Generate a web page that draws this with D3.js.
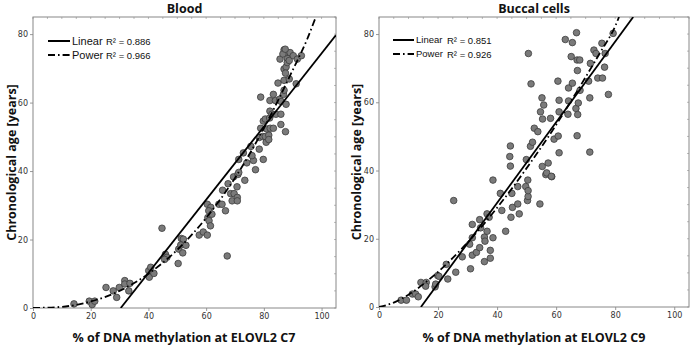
<!DOCTYPE html>
<html>
<head>
<meta charset="utf-8">
<script src="https://cdn.jsdelivr.net/npm/d3@7"></script>
<style>
  body { margin: 0; background: #fff; }
  .tick text { font-family: "DejaVu Sans", sans-serif; font-size: 8px; fill: #333; }
  .panelTitle, .axisLabel { font-family: "Open Sans", sans-serif; font-weight: bold; fill: #111; }
  .legendText { font-family: "Liberation Sans", sans-serif; fill: #111; }
</style>
</head>
<body>
<div id="chart"></div>
<script>
// ---- data ----
const xTicks = [0, 20, 40, 60, 80, 100];
const yTicks = [0, 20, 40, 60, 80];

const bloodPoints = [
  [14.2,1.2],[19.5,2],[20.5,1],[21.4,2],[25.3,6],[27.8,5],[29,3.1],[29.9,6],[31.8,8],[31.8,7],
  [33.6,7.2],[33.2,5],[40.1,10.9],[40.8,11.9],[40.3,9],[41.9,10.1],[44.7,23.3],[45.9,15.7],[46.4,14.8],[45.6,14.2],
  [50.3,13],[50.5,17.2],[51.4,20.3],[52.1,20.1],[51.2,18.4],[51.9,16.1],[53,18.3],[57.6,21.3],[59,22.2],[60.4,21.3],
  [60.4,30.3],[61.6,29.4],[60.9,28.4],[60.6,26.4],[61,25.5],[62,27.4],[61.5,24],[64.4,30.3],[65.5,30.3],[65.7,34.4],
  [66.7,28.4],[67.6,36.3],[67.3,15.2],[68.5,33.4],[69.7,33.4],[69,31.3],[70.7,35.4],[70.8,32.3],[70.8,31.3],[69.5,38.3],
  [71,39],[73.4,37.3],[71.3,39.6],[74.1,42.4],[71.3,43.4],[72.9,45.3],[76.4,43.1],[77.1,40.4],[75.5,47.2],[75.9,44.5],
  [78.4,46.4],[79.8,43.4],[78.4,49.8],[79.6,50.1],[80.5,50.1],[81.7,50.5],[80.8,48.4],[81.7,49.2],[78.9,52.5],[79.8,54.6],
  [81,52.3],[82.2,52.5],[83.3,52.5],[80.5,55.2],[82,55.5],[82.1,57.5],[82.8,56.6],[84.2,56.6],[85.9,56.6],[85.9,53.6],
  [87.5,51.5],[78.9,61.6],[82.1,60.6],[84,60.6],[83.3,62.4],[85.5,61],[86.8,62.4],[86,60.3],[87.7,59.5],[87,63.6],
  [84.9,65.7],[87,66.5],[88.8,66.9],[91.2,65.5],[85.6,72.7],[87,69.8],[87.7,70.4],[87.5,68.6],[88.1,71.7],[88.1,73.1],
  [88.8,72.3],[87,75.4],[87.7,74.6],[89.1,74.6],[86.6,74.2],[87.4,75.6],[90.2,73.7],[91.6,72.7],[93,73.7]
];

const buccalPoints = [
  [7.5,2],[9.3,2],[11.3,3.8],[12.4,3.8],[13.3,3],[14.2,7.2],[16,7.2],[15.8,6.1],[19,5.9],[19.2,6.7],
  [19.9,9.2],[20.3,9],[22.8,12.5],[23.3,8.2],[25.3,31.2],[26,10.2],[28.2,14.7],[30.7,18.4],[31,11.2],[31.6,24.2],
  [31.6,20.3],[31.6,15.2],[33,16],[34.1,25.6],[34.1,17.4],[34.4,23.2],[35.7,20.5],[35.9,19.3],[35.7,13.3],[36.6,22.2],
  [36.6,27.3],[37.3,26.3],[37.7,14.3],[37.7,16.6],[38.6,37.2],[38.6,20.3],[41.1,33.3],[41.6,28.3],[42.9,22.2],[44.7,26.3],
  [45,33.3],[45.2,29.2],[47,35.3],[47,30.2],[47.5,27.3],[49.7,35.3],[50.3,31.2],[50.5,32.4],[50.5,34.1],[50.4,37.2],
  [54.5,30.2],[56.5,38.8],[58.5,38.2],[44.3,44.1],[44.5,47.2],[44.5,41.3],[49.9,43.2],[51.3,47.1],[52,48.3],[52.6,52.4],
  [53.8,51.4],[54.7,57.2],[55.4,55.1],[55.2,61.3],[55.8,59.2],[58.1,55.3],[60.6,66.2],[61,57.2],[61,60.6],[64.2,64.2],
  [64.2,60.4],[64,56.5],[65.5,65.6],[67.1,50.2],[66.7,58.2],[67.5,59.8],[67.3,56.4],[67.1,72.4],[68,72.4],[67.2,69.3],
  [65.1,73.4],[65.5,77.5],[63.1,78.4],[66.9,80.4],[50.6,74.3],[51.5,65.4],[61,45.2],[71.4,45.4],[71.4,61.3],[71.6,71.4],
  [72.8,75.3],[73.5,74.3],[74.1,67.1],[75.7,67.1],[76.4,70.3],[76.6,74.3],[75.5,77.3],[77.7,62.3],[79.3,80.2],[71,66.2],
  [68.1,63.5],[55.3,41.2],[57.3,42.2],[56.8,39.3],[58.4,38.3],[59.3,49.2],[60.7,50.1]
];

// fit lines
const bloodLinear = [[30.4,0],[105,79.7]];
const bloodPower = [[0,0],[10,0.35],[20,1.9],[30,5],[40,10],[50,17],[60,26.3],[70,38],[80,52.5],[90,69.5],[95,78.5],[98,85]];
const buccalLinear = [[14.2,0],[86.1,85]];
const buccalPower = [[0,0],[5,1.3],[10,3.6],[15,6.7],[20,10.3],[25,14.4],[30,18.9],[35,23.8],[40,29.1],[45,34.7],
  [50,40.7],[55,46.9],[60,53.4],[65,60.3],[70,67.4],[75,74.7],[80,82.3],[81.3,85]];

const bloodR2 = ["R\u00b2 = 0.886", "R\u00b2 = 0.966"];
const buccalR2 = ["R\u00b2 = 0.851", "R\u00b2 = 0.926"];

/**********************
***** BASIC SETUP *****
**********************/

const width = 694;
const height = 347;

const svg = d3.select("#chart")
  .append("svg")
  .attr("width", width)
  .attr("height", height);

const powerDash = "7,3,1.6,3";

function drawPanel(opt) {
  const x = d3.scaleLinear().domain([0, 105]).range([opt.left, opt.right]);
  const y = d3.scaleLinear().domain([0, 85]).range([opt.bottom, opt.top]);

  const g = svg.append("g");

  // clip for the fit lines
  const clipId = "clip" + opt.id;
  svg.append("clipPath").attr("id", clipId)
    .append("rect")
    .attr("x", opt.left).attr("y", opt.top)
    .attr("width", opt.right - opt.left).attr("height", opt.bottom - opt.top);

  // axes
  g.append("g")
    .attr("transform", `translate(0,${opt.bottom})`)
    .call(d3.axisBottom(x).tickValues(xTicks).tickSize(3).tickPadding(2))
    .call(a => a.select(".domain").remove())
    .call(a => a.selectAll("line").attr("stroke", "#999"));

  g.append("g")
    .attr("transform", `translate(${opt.left},0)`)
    .call(d3.axisLeft(y).tickValues(yTicks).tickSize(3).tickPadding(2))
    .call(a => a.select(".domain").remove())
    .call(a => a.selectAll("line").attr("stroke", "#999"));

  // small minor marks inside the top and right edges
  const minorX = d3.range(0, 106, 5);
  const minorY = d3.range(0, 86, 5);
  g.selectAll(".minorTop").data(minorX).enter().append("line")
    .attr("x1", d => x(d)).attr("x2", d => x(d))
    .attr("y1", opt.top).attr("y2", opt.top + 2)
    .attr("stroke", "#bbb");
  g.selectAll(".minorRight").data(minorY).enter().append("line")
    .attr("y1", d => y(d)).attr("y2", d => y(d))
    .attr("x1", opt.right).attr("x2", opt.right - 2)
    .attr("stroke", "#bbb");

  // frame
  g.append("rect")
    .attr("x", opt.left).attr("y", opt.top)
    .attr("width", opt.right - opt.left).attr("height", opt.bottom - opt.top)
    .attr("fill", "none")
    .attr("stroke", "#888")
    .attr("stroke-width", 1);

  // points
  g.selectAll(".points")
    .data(opt.points)
    .enter()
    .append("circle")
    .attr("class", "points")
    .attr("cx", d => x(d[0]))
    .attr("cy", d => y(d[1]))
    .attr("r", 3.3)
    .attr("fill", "#7a7a7a")
    .attr("stroke", "#3c3c3c")
    .attr("stroke-width", 0.8);

  // fit lines
  const line = d3.line().x(d => x(d[0])).y(d => y(d[1])).curve(d3.curveMonotoneX);
  const fits = g.append("g").attr("clip-path", `url(#${clipId})`);
  fits.append("path")
    .datum(opt.power)
    .attr("d", line)
    .attr("fill", "none")
    .attr("stroke", "#000")
    .attr("stroke-width", 1.8)
    .attr("stroke-dasharray", powerDash);
  fits.append("path")
    .datum(opt.linear)
    .attr("d", line)
    .attr("fill", "none")
    .attr("stroke", "#000")
    .attr("stroke-width", 1.8);

  // legend
  const lg = g.append("g").attr("transform", `translate(${opt.legX},${opt.legY})`);
  const rows = [{label: "Linear", dash: null}, {label: "Power", dash: powerDash}];
  rows.forEach((r, i) => {
    lg.append("line")
      .attr("x1", 0).attr("x2", opt.legLine)
      .attr("y1", i * 14).attr("y2", i * 14)
      .attr("stroke", "#000")
      .attr("stroke-width", 2)
      .attr("stroke-dasharray", r.dash);
    lg.append("text")
      .attr("class", "legendText")
      .attr("x", opt.legLine + 2)
      .attr("y", i * 14 + opt.legSize * 0.36)
      .attr("font-size", opt.legSize)
      .text(r.label);
    lg.append("text")
      .attr("class", "legendText")
      .attr("x", opt.r2X)
      .attr("y", i * 14 + 3.5)
      .attr("font-size", 9.5)
      .text(opt.r2[i]);
  });

  // title
  g.append("text")
    .attr("class", "panelTitle")
    .attr("x", (opt.left + opt.right) / 2)
    .attr("y", 13)
    .attr("text-anchor", "middle")
    .attr("font-size", 12.5)
    .text(opt.title);

  // x axis label
  g.append("text")
    .attr("class", "axisLabel")
    .attr("x", opt.xLabelX)
    .attr("y", 342)
    .attr("text-anchor", "middle")
    .attr("font-size", 12.5)
    .text(opt.xLabel);

  // y axis label
  g.append("text")
    .attr("class", "axisLabel")
    .attr("transform", `translate(${opt.yLabelX},${(opt.top + opt.bottom) / 2}) rotate(-90)`)
    .attr("text-anchor", "middle")
    .attr("font-size", 12.5)
    .text("Chronological age [years]");
}

drawPanel({
  id: "blood", title: "Blood",
  left: 33, right: 336, top: 17, bottom: 308,
  points: bloodPoints, linear: bloodLinear, power: bloodPower, r2: bloodR2,
  legX: 48, legY: 41, legLine: 22, legSize: 11, r2X: 58,
  xLabel: "% of DNA methylation at ELOVL2 C7", xLabelX: 184, yLabelX: 16
});

drawPanel({
  id: "buccal", title: "Buccal cells",
  left: 379, right: 689, top: 17, bottom: 307,
  points: buccalPoints, linear: buccalLinear, power: buccalPower, r2: buccalR2,
  legX: 393, legY: 40, legLine: 21, legSize: 9.5, r2X: 54,
  xLabel: "% of DNA methylation at ELOVL2 C9", xLabelX: 534, yLabelX: 361
});
</script>
</body>
</html>
